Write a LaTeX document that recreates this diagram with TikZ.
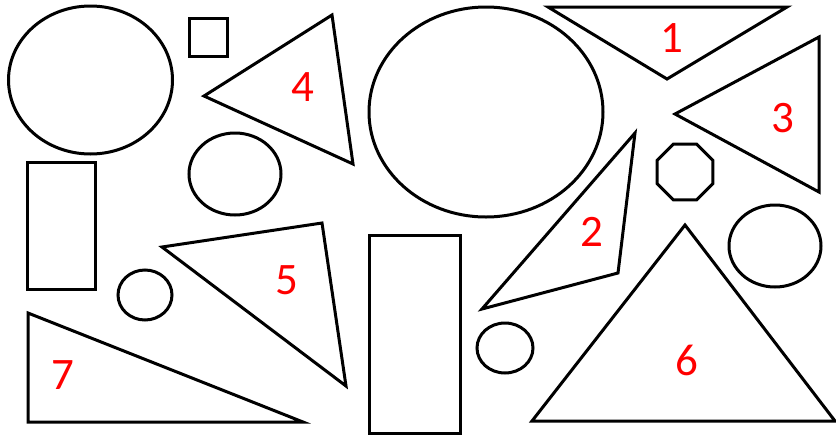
\documentclass[tikz,border=0pt]{standalone}
\usepackage{fontspec}
\setmainfont{Carlito}
\tikzset{
  shp/.style={draw=black, line width=3pt, line join=miter},
  num/.style={text=red, font=\fontsize{45}{48}\selectfont, inner sep=0pt}
}
\begin{document}
\begin{tikzpicture}[x=1pt, y=-1pt]
        \useasboundingbox (0,0) rectangle (836,437);
        % ellipses and circles
        \draw[shp] (90.5,80) ellipse [x radius=82, y radius=74];
        \draw[shp] (486,112) ellipse [x radius=117, y radius=105];
        \draw[shp] (235,174) ellipse [x radius=46, y radius=41];
        \draw[shp] (775,246) ellipse [x radius=46, y radius=41];
        \draw[shp] (145,295) ellipse [x radius=27, y radius=25];
        \draw[shp] (505,348) ellipse [x radius=28, y radius=25];
        % rectangles
        \draw[shp] (189,18) rectangle (227,56);
        \draw[shp] (27,162) rectangle (95,289);
        \draw[shp] (369,235) rectangle (460,433);
        % octagon
        \draw[shp] (685,172) +(22.5:30.3)
          \foreach \a in {67.5,112.5,...,337.5} { -- +(\a:30.3) } -- cycle;
        % triangles
        \draw[shp] (548,7) -- (787,7) -- (667,79) -- cycle;
        \draw[shp] (635,133) -- (618,273) -- (482,309) -- cycle;
        \draw[shp] (675,114) -- (819,37) -- (819,192) -- cycle;
        \draw[shp] (204,96) -- (332,15) -- (353,164) -- cycle;
        \draw[shp] (162,247) -- (322,223) -- (346,386) -- cycle;
        \draw[shp] (532,421) -- (685,225) -- (835,421) -- cycle;
        \draw[shp] (28,313) -- (28,422) -- (303,422) -- cycle;
        % numbers
        \node[num] (n1) at (672,38) {1};
        \node[num] (n2) at (592,232) {2};
        \node[num] (n3) at (783,118) {3};
        \node[num] (n4) at (303,87) {4};
        \node[num] (n5) at (287,280) {5};
        \node[num] (n6) at (687,360) {6};
        \node[num] (n7) at (63,375) {7};
    \end{tikzpicture}
\end{document}
